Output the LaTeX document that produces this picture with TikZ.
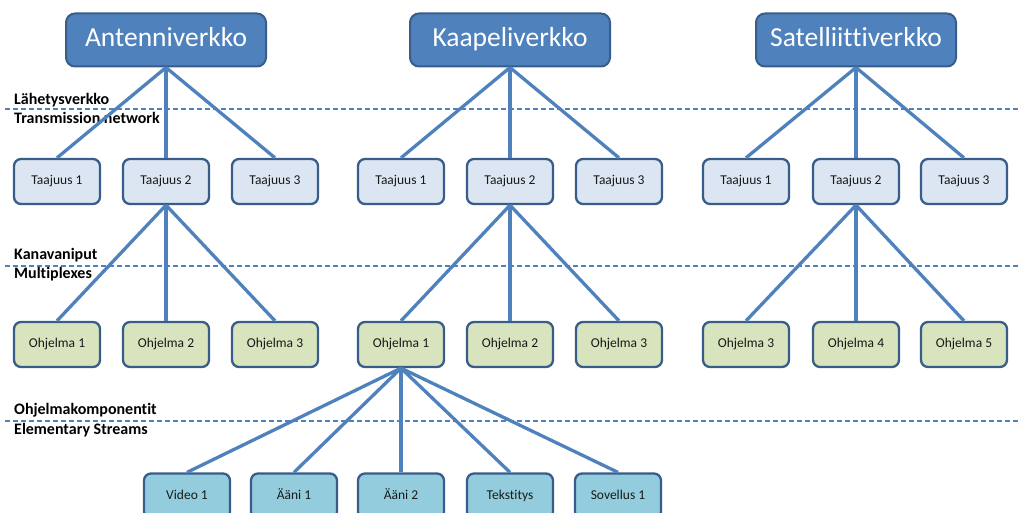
\documentclass[tikz,border=0pt]{standalone}
\usepackage{fontspec}
\setmainfont{Carlito}[Ligatures=NoCommon]
\definecolor{topfill}{HTML}{4F81BD}
\definecolor{boxborder}{HTML}{385D8A}
\definecolor{freqfill}{HTML}{DCE6F2}
\definecolor{progfill}{HTML}{D7E4BD}
\definecolor{esfill}{HTML}{93CDDD}
\definecolor{linkcol}{HTML}{4F81BD}
\begin{document}
\begin{tikzpicture}[x=1pt,y=-1pt,
  topbox/.style={draw=boxborder, fill=topfill, line width=2pt, rounded corners=9pt,
    minimum width=200pt, minimum height=53pt, inner sep=0pt, text=white,
    text height=18pt, text depth=5pt,
    font=\fontsize{27.5}{30}\selectfont},
  smallbox/.style={draw=boxborder, line width=2.3pt, rounded corners=7pt,
    minimum width=86pt, minimum height=45pt, inner sep=0pt, text=black!90,
    text height=9pt, text depth=3pt,
    font=\fontsize{13.5}{15}\selectfont},
  freqbox/.style={smallbox, fill=freqfill},
  progbox/.style={smallbox, fill=progfill},
  esbox/.style={smallbox, fill=esfill},
  link/.style={draw=linkcol, line width=3.3pt},
  sep/.style={draw=linkcol, line width=1.2pt, dash pattern=on 5pt off 3pt},
  layerlabel/.style={anchor=west, inner sep=0pt, font=\bfseries\fontsize{16}{18}\selectfont}
]
\useasboundingbox (0,0) rectangle (1018,513);

% separators
\coordinate (s1a) at (5,109); \coordinate (s1b) at (1018,109);
\coordinate (s2a) at (5,266); \coordinate (s2b) at (1018,266);
\coordinate (s3a) at (5,421); \coordinate (s3b) at (1018,421);
\draw[sep] (s1a) -- (s1b);
\draw[sep] (s2a) -- (s2b);
\draw[sep] (s3a) -- (s3b);

% layer labels
\node[layerlabel] (l1a) at (14,100) {Lähetysverkko};
\node[layerlabel] (l1b) at (14,118) {Transmission network};
\node[layerlabel] (l2a) at (14,255) {Kanavaniput};
\node[layerlabel] (l2b) at (14,274) {Multiplexes};
\node[layerlabel] (l3a) at (14,410) {Ohjelmakomponentit};
\node[layerlabel] (l3b) at (14,430) {Elementary Streams};

% top networks
\node[topbox] (ant) at (166,40) {Antenniverkko};
\node[topbox] (kaa) at (510,40) {Kaapeliverkko};
\node[topbox] (sat) at (856,40) {Satelliittiverkko};

% frequencies
\node[freqbox] (a1) at (57,181.5) {Taajuus 1};
\node[freqbox] (a2) at (166,181.5) {Taajuus 2};
\node[freqbox] (a3) at (275,181.5) {Taajuus 3};
\node[freqbox] (k1) at (401,181.5) {Taajuus 1};
\node[freqbox] (k2) at (510,181.5) {Taajuus 2};
\node[freqbox] (k3) at (619,181.5) {Taajuus 3};
\node[freqbox] (t1) at (746,181.5) {Taajuus 1};
\node[freqbox] (t2) at (856,181.5) {Taajuus 2};
\node[freqbox] (t3) at (964,181.5) {Taajuus 3};

% programmes
\node[progbox] (ap1) at (57,344.5) {Ohjelma 1};
\node[progbox] (ap2) at (166,344.5) {Ohjelma 2};
\node[progbox] (ap3) at (275,344.5) {Ohjelma 3};
\node[progbox] (kp1) at (401,344.5) {Ohjelma 1};
\node[progbox] (kp2) at (510,344.5) {Ohjelma 2};
\node[progbox] (kp3) at (619,344.5) {Ohjelma 3};
\node[progbox] (tp3) at (746,344.5) {Ohjelma 3};
\node[progbox] (tp4) at (856,344.5) {Ohjelma 4};
\node[progbox] (tp5) at (964,344.5) {Ohjelma 5};

% elementary streams
\node[esbox] (e1) at (187,496) {Video 1};
\node[esbox] (e2) at (294,496) {Ääni 1};
\node[esbox] (e3) at (401,496) {Ääni 2};
\node[esbox] (e4) at (510,496) {Tekstitys};
\node[esbox] (e5) at (618,496) {Sovellus 1};

% connectors
\foreach \p/\c in {ant/a1,ant/a2,ant/a3,kaa/k1,kaa/k2,kaa/k3,sat/t1,sat/t2,sat/t3,
  a2/ap1,a2/ap2,a2/ap3,k2/kp1,k2/kp2,k2/kp3,t2/tp3,t2/tp4,t2/tp5,
  kp1/e1,kp1/e2,kp1/e3,kp1/e4,kp1/e5}
  \draw[link] (\p.south) -- (\c.north);
\end{tikzpicture}
\end{document}
